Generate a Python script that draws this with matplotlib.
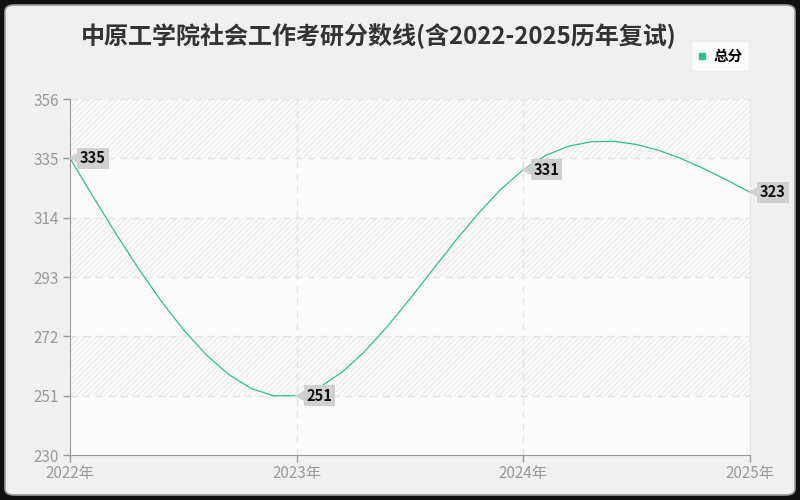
import numpy as np
import matplotlib
matplotlib.use("Agg")
from matplotlib import pyplot as plt
from matplotlib.patches import FancyBboxPatch
from matplotlib.lines import Line2D
from matplotlib import transforms

plt.rcParams['font.family'] = ['Noto Sans CJK SC', 'DejaVu Sans']
plt.rcParams['hatch.linewidth'] = 0.6

title = "中原工学院社会工作考研分数线(含2022-2025历年复试)"
years = [2022, 2023, 2024, 2025]
year_labels = ["2022年", "2023年", "2024年", "2025年"]
scores = [335, 251, 331, 323]
y_ticks = [230, 251, 272, 293, 314, 335, 356]
series_name = "总分"

line_color = "#2fbf8f"


def natural_spline(xs, ys, per_seg=10):
    # natural cubic spline through the points, drawn as a polyline
    x = np.asarray(xs, float)
    y = np.asarray(ys, float)
    n = len(x)
    h = np.diff(x)
    A = np.zeros((n, n))
    r = np.zeros(n)
    A[0, 0] = A[-1, -1] = 1
    for i in range(1, n - 1):
        A[i, i - 1] = h[i - 1]
        A[i, i] = 2 * (h[i - 1] + h[i])
        A[i, i + 1] = h[i]
        r[i] = 6 * ((y[i + 1] - y[i]) / h[i] - (y[i] - y[i - 1]) / h[i - 1])
    M = np.linalg.solve(A, r)
    px, py = [], []
    for i in range(n - 1):
        u = np.linspace(0, 1, per_seg + 1)
        if i > 0:
            u = u[1:]
        a = 1 - u
        val = (a * y[i] + u * y[i + 1]
               + ((a ** 3 - a) * M[i] + (u ** 3 - u) * M[i + 1]) * h[i] ** 2 / 6)
        px.extend(x[i] + u * h[i])
        py.extend(val)
    return np.array(px), np.array(py)


fig = plt.figure(figsize=(8, 5), dpi=100)
fig.patch.set_facecolor("#111111")
frame = FancyBboxPatch((5 / 800, 5 / 500), 790 / 800, 490 / 500,
                       boxstyle="round,pad=0,rounding_size=0.012",
                       transform=fig.transFigure, facecolor="#f0f0f0",
                       edgecolor="#9a9a9a", linewidth=1.2, zorder=-10)
fig.patches.append(frame)

ax = fig.add_axes([70 / 800, 45 / 500, 680 / 800, 356 / 500])
ax.set_facecolor("#fbfbfb")
ax.set_xlim(years[0], years[-1])
ax.set_ylim(y_ticks[0], y_ticks[-1])

# alternating hatched bands
for k in range(len(y_ticks) - 1):
    lo, hi = y_ticks[k], y_ticks[k + 1]
    if k % 2 == 1:
        ax.axhspan(lo, hi, facecolor="#fbfbfb", edgecolor="#e6e6e6",
                   hatch="//////", linewidth=0, zorder=0)

for yv in y_ticks[1:]:
    ax.axhline(yv, color="#e4e4e4", linestyle=(0, (5, 4)), linewidth=1, zorder=1)
for xv in years[1:-1]:
    ax.axvline(xv, color="#e4e4e4", linestyle=(0, (5, 4)), linewidth=1, zorder=1)

cx, cy = natural_spline(years, scores)
ax.plot(cx, cy, color=line_color, linewidth=0.9, zorder=3, clip_on=False)

# value tags with pointer
for x, y in zip(years, scores):
    tip = transforms.offset_copy(ax.transData, fig=fig, x=5.5, y=0, units='dots')
    ax.plot([x], [y], marker='<', markersize=12, color="#d0d0d0",
            markeredgewidth=0, transform=tip, clip_on=False, zorder=4)
    ax.annotate(str(y), (x, y), xytext=(10, 0), textcoords='offset pixels',
                ha='left', va='center', fontsize=10.5, fontweight='bold',
                color="#111111", annotation_clip=False, zorder=5,
                bbox=dict(boxstyle="square,pad=0.18", facecolor="#d0d0d0",
                          edgecolor="none"))

ax.set_xticks(years)
ax.set_xticklabels(year_labels)
ax.set_yticks(y_ticks)
ax.tick_params(axis='both', colors="#999999", labelsize=11, length=5, width=1)
ax.tick_params(axis='x', pad=2)
ax.tick_params(axis='y', pad=3)
for lab in ax.get_xticklabels() + ax.get_yticklabels():
    lab.set_color("#999999")
ax.spines['left'].set_color("#999999")
ax.spines['bottom'].set_color("#999999")
ax.spines['top'].set_visible(False)
ax.spines['right'].set_color("#e6e6e6")

fig.text(379 / 800, 1 - 36 / 500, title, ha='center', va='center',
         fontsize=17.3, fontweight='bold', color="#333333")

handle = Line2D([], [], marker='s', color=line_color, linestyle='none', markersize=4.5)
leg = fig.legend([handle], [series_name], loc='center',
                 bbox_to_anchor=(720 / 800, 1 - 56 / 500), frameon=True,
                 fancybox=True, handlelength=0.6, handletextpad=0.5,
                 borderpad=0.45, prop={'size': 10.5, 'weight': 'bold'})
leg.get_frame().set_facecolor("white")
leg.get_frame().set_edgecolor("#eeeeee")

fig.savefig("out.png", dpi=100, facecolor=fig.get_facecolor())
